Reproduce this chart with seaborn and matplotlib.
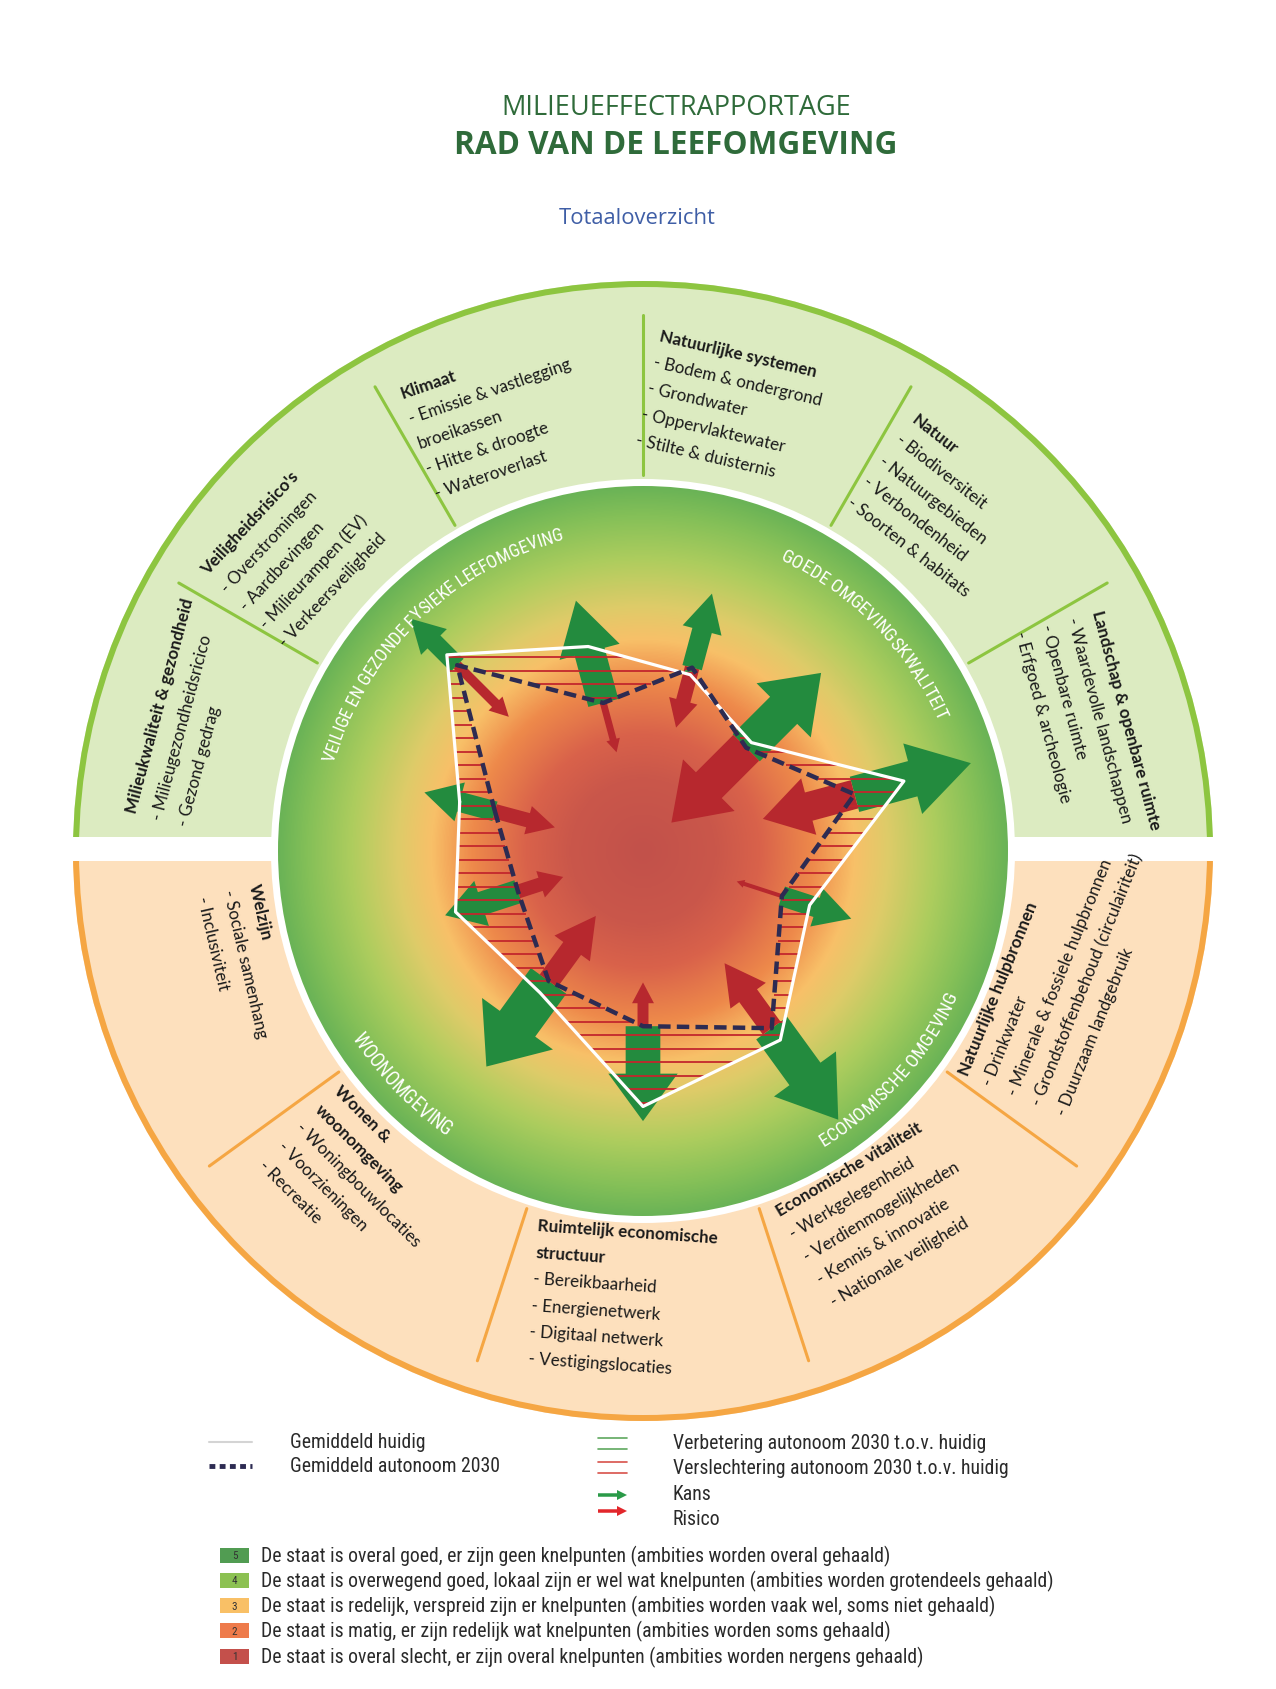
import numpy as np
import matplotlib
matplotlib.use("Agg")
import matplotlib.pyplot as plt
import seaborn as sns
from matplotlib import font_manager
from matplotlib.font_manager import FontProperties, findfont, get_font
from matplotlib.patches import Wedge, Circle, Rectangle, Arc
from matplotlib.colors import LinearSegmentedColormap

# Thema's van het rad, met de klok mee vanaf linksboven
thema_boven = ["Milieukwaliteit & gezondheid", "Veiligheidsrisico's", "Klimaat",
               "Natuurlijke systemen", "Natuur", "Landschap & openbare ruimte"]
thema_onder = ["Natuurlijke hulpbronnen", "Economische vitaliteit",
               "Ruimtelijk economische structuur", "Wonen & woonomgeving", "Welzijn"]
thema = thema_boven + thema_onder

# Scores (schaal 0-5, 5 = rand van het rad)
huidig = [2.6, 3.8, 2.9, 2.5, 2.1, 3.7, 2.4, 3.2, 3.5, 2.4, 2.7]
autonoom_2030 = [2.1, 3.6, 2.1, 2.6, 2.0, 3.0, 2.0, 3.0, 2.4, 2.2, 1.8]

# Kansen en risico's (lengte en breedte van de pijlen, zelfde schaal)
kans_lengte = [1.0, 0.9, 1.45, 1.05, 1.45, 1.65, 1.0, 1.55, 1.3, 1.45, 1.05]
kans_breedte = [0.55, 0.5, 0.85, 0.55, 1.05, 1.0, 0.55, 1.05, 0.95, 1.2, 0.65]
risico_lengte = [0.85, 1.0, 0.7, 0.85, 1.45, 1.3, 0.65, 1.1, 0.6, 1.1, 0.65]
risico_breedte = [0.4, 0.27, 0.19, 0.4, 1.0, 0.8, 0.11, 0.6, 0.3, 0.6, 0.38]

onderdelen = {
    "Milieukwaliteit & gezondheid": ["Milieugezondheidsricico", "Gezond gedrag"],
    "Veiligheidsrisico's": ["Overstromingen", "Aardbevingen", "Milieurampen (EV)",
                            "Verkeersveiligheid"],
    "Klimaat": ["Emissie & vastlegging\nbroeikassen", "Hitte & droogte", "Wateroverlast"],
    "Natuurlijke systemen": ["Bodem & ondergrond", "Grondwater", "Oppervlaktewater",
                             "Stilte & duisternis"],
    "Natuur": ["Biodiversiteit", "Natuurgebieden", "Verbondenheid", "Soorten & habitats"],
    "Landschap & openbare ruimte": ["Waardevolle landschappen", "Openbare ruimte",
                                    "Erfgoed & archeologie"],
    "Natuurlijke hulpbronnen": ["Drinkwater", "Minerale & fossiele hulpbronnen",
                                "Grondstoffenbehoud (circulairiteit)", "Duurzaam landgebruik"],
    "Economische vitaliteit": ["Werkgelegenheid", "Verdienmogelijkheden",
                               "Kennis & innovatie", "Nationale veiligheid"],
    "Ruimtelijk economische structuur": ["Bereikbaarheid", "Energienetwerk",
                                         "Digitaal netwerk", "Vestigingslocaties"],
    "Wonen & woonomgeving": ["Woningbouwlocaties", "Voorzieningen", "Recreatie"],
    "Welzijn": ["Sociale samenhang", "Inclusiviteit"],
}
titel_regels = {"Ruimtelijk economische structuur": ["Ruimtelijk economische", "structuur"],
                "Wonen & woonomgeving": ["Wonen &", "woonomgeving"]}

domeinen = ["VEILIGE EN GEZONDE FYSIEKE LEEFOMGEVING", "GOEDE OMGEVINGSKWALITEIT",
            "WOONOMGEVING", "ECONOMISCHE OMGEVING"]

legenda_klassen = ["5", "4", "3", "2", "1"]
legenda_teksten = [
    "De staat is overal goed, er zijn geen knelpunten (ambities worden overal gehaald)",
    "De staat is overwegend goed, lokaal zijn er wel wat knelpunten (ambities worden grotendeels gehaald)",
    "De staat is redelijk, verspreid zijn er knelpunten (ambities worden vaak wel, soms niet gehaald)",
    "De staat is matig, er zijn redelijk wat knelpunten (ambities worden soms gehaald)",
    "De staat is overal slecht, er zijn overal knelpunten (ambities worden nergens gehaald)",
]
legenda_kleuren = ["#519c52", "#8cc152", "#f9c066", "#ee7b4b", "#c4504b"]

# ---------------------------------------------------------------- layout
W, H, DPI = 1276, 1690, 100
CX, CY = 643, H - 852
R_OUT, R_IN, R_CIRC = 570, 372, 365
SCHAAL = R_CIRC / 5.0

sns.set_theme(style="white")
plt.rcParams["font.family"] = ["Open Sans", "DejaVu Sans"]

ttf = font_manager.fontManager.ttflist
namen = {f.name for f in ttf}
fp_smal = None
for n in ["Roboto Condensed", "Liberation Sans Narrow", "Open Sans Condensed",
          "Noto Sans Condensed"]:
    if n in namen:
        fp_smal = FontProperties(family=n)
        break
if fp_smal is None:
    for n in ["Noto Sans", "Roboto", "Open Sans", "DejaVu Sans", "Liberation Sans"]:
        hits = [f for f in ttf if f.name == n and f.stretch in ("condensed", "semi-condensed")
                and f.style == "normal" and f.weight in (400, "normal", "regular")]
        if hits:
            fp_smal = FontProperties(fname=hits[0].fname)
            break
if fp_smal is None:
    fp_smal = FontProperties(family="Roboto")

fp_reg = FontProperties(family="Open Sans")
fp_bold = FontProperties(family="Open Sans", weight="bold")
ring_fam = "Lato" if "Lato" in namen else "Open Sans"
fp_ring = FontProperties(family=ring_fam)
fp_ring_bold = FontProperties(family=ring_fam, weight="bold")


def advances(tekst, fp, size):
    font = get_font(findfont(fp))
    font.set_size(size, 72)
    return [font.load_char(ord(c)).linearHoriAdvance / 65536 * DPI / 72 for c in tekst]


def passend(tekst, fp, doel):
    return 10 * doel / sum(advances(tekst, fp, 10))


def met_maat(fp, size):
    f = fp.copy()
    f.set_size(size)
    return f


def pol(hoek, r):
    t = np.radians(hoek)
    return CX + r * np.cos(t), CY + r * np.sin(t)


fig = plt.figure(figsize=(W / DPI, H / DPI), dpi=DPI)
ax = fig.add_axes([0, 0, 1, 1])

# buitenring
ax.add_patch(Wedge((CX, CY), R_OUT, 0, 180, facecolor="#dcebc1", edgecolor="none", zorder=1))
ax.add_patch(Wedge((CX, CY), R_OUT, 180, 360, facecolor="#fde0bd", edgecolor="none", zorder=1))
ax.add_patch(Arc((CX, CY), 2 * (R_OUT - 3), 2 * (R_OUT - 3), theta1=0, theta2=180,
                 color="#8dc540", lw=4.3, zorder=1.2))
ax.add_patch(Arc((CX, CY), 2 * (R_OUT - 3), 2 * (R_OUT - 3), theta1=180, theta2=360,
                 color="#f5a643", lw=4.3, zorder=1.2))
for a in [30, 60, 90, 120, 150]:
    (x1, y1), (x2, y2) = pol(a, 376), pol(a, 536)
    ax.plot([x1, x2], [y1, y2], color="#8dc540", lw=2.2, zorder=1.5)
for a in [216, 252, 288, 324]:
    (x1, y1), (x2, y2) = pol(a, 376), pol(a, 536)
    ax.plot([x1, x2], [y1, y2], color="#f5a643", lw=2.2, zorder=1.5)
ax.add_patch(Rectangle((0, CY - 10), W, 24, facecolor="white", edgecolor="none", zorder=1.8))

# binnencirkel met kleurverloop
ax.add_patch(Circle((CX, CY), R_IN, facecolor="white", edgecolor="none", zorder=2))
stops = [(0.0, "#c2514b"), (0.2, "#ca574a"), (0.32, "#d9624a"), (0.47, "#ee8a4b"),
         (0.58, "#f8c068"), (0.67, "#dfcb69"), (0.8, "#aecd5e"), (0.92, "#85c058"),
         (1.0, "#6ab356")]
cmap = LinearSegmentedColormap.from_list("rad", stops)
g = np.linspace(-1, 1, 700)
gx, gy = np.meshgrid(g, g)
im = ax.imshow(np.hypot(gx, gy), cmap=cmap, vmin=0, vmax=1, origin="lower",
               extent=[CX - R_CIRC, CX + R_CIRC, CY - R_CIRC, CY + R_CIRC],
               interpolation="bilinear", zorder=3)
im.set_clip_path(Circle((CX, CY), R_CIRC, transform=ax.transData))

# assen van het radardiagram
hoeken = np.array([180 - 30 * (i + 0.5) for i in range(len(thema_boven))] +
                  [360 - 36 * (i + 0.5) for i in range(len(thema_onder))])


def radar_xy(waarden):
    r = np.array(waarden) * SCHAAL
    return CX + r * np.cos(np.radians(hoeken)), CY + r * np.sin(np.radians(hoeken))


hx, hy = radar_xy(huidig)
ax_, ay_ = radar_xy(autonoom_2030)

# pijlen: kansen naar buiten, risico's naar binnen
for i, hoek in enumerate(hoeken):
    ux, uy = np.cos(np.radians(hoek)), np.sin(np.radians(hoek))
    for lengte, breedte, kleur, richting, z in [
            (kans_lengte[i], kans_breedte[i], "#238b3e", 1, 4),
            (risico_lengte[i], risico_breedte[i], "#b7282e", -1, 5)]:
        L = lengte * SCHAAL
        hw = breedte * SCHAAL
        ax.arrow(ax_[i], ay_[i], richting * ux * L, richting * uy * L, width=0.5 * hw,
                 head_width=hw, head_length=min(0.5 * L, 0.95 * hw),
                 length_includes_head=True, facecolor=kleur, edgecolor="none", lw=0, zorder=z)


# arcering tussen huidig en autonoom 2030
def snijpunten(px, py, y0):
    xs = []
    n = len(px)
    for k in range(n):
        x1, y1, x2, y2 = px[k], py[k], px[(k + 1) % n], py[(k + 1) % n]
        if (y1 <= y0 < y2) or (y2 <= y0 < y1):
            xs.append(x1 + (y0 - y1) * (x2 - x1) / (y2 - y1))
    return sorted(xs)


def binnen(xs, x):
    return sum(1 for v in xs if v < x) % 2 == 1


rood, groen = [], []
for y0 in np.arange(CY - 400, CY + 400, 13.5):
    a = snijpunten(hx, hy, y0)
    b = snijpunten(ax_, ay_, y0)
    pts = sorted(a + b)
    for x1, x2 in zip(pts[:-1], pts[1:]):
        m = 0.5 * (x1 + x2)
        ia, ib = binnen(a, m), binnen(b, m)
        if ia and not ib:
            rood.append((y0, x1, x2))
        elif ib and not ia:
            groen.append((y0, x1, x2))
if rood:
    ax.hlines([r[0] for r in rood], [r[1] for r in rood], [r[2] for r in rood],
              color="#c3272d", lw=1.3, zorder=6)
if groen:
    ax.hlines([r[0] for r in groen], [r[1] for r in groen], [r[2] for r in groen],
              color="#3b9b46", lw=1.3, zorder=6)

sns.lineplot(x=np.append(hx, hx[0]), y=np.append(hy, hy[0]), sort=False, estimator=None,
             color="white", linewidth=2.3, ax=ax, zorder=7)
sns.lineplot(x=np.append(ax_, ax_[0]), y=np.append(ay_, ay_[0]), sort=False, estimator=None,
             color="#2d2b52", linewidth=3.2, linestyle=(0, (2.8, 1.4)),
             dash_capstyle="butt", ax=ax, zorder=8)


# gebogen domeinnamen langs de binnencirkel
def boogtekst(tekst, midden, straal, span, boven):
    size = passend(tekst, fp_smal, np.radians(span) * straal)
    adv = np.array(advances(tekst, fp_smal, size))
    pos = np.cumsum(np.r_[0, adv[:-1]]) + adv / 2 - adv.sum() / 2
    fp = met_maat(fp_smal, size)
    for ch, p in zip(tekst, pos):
        d = np.degrees(p / straal)
        th = midden - d if boven else midden + d
        x, y = pol(th, straal)
        ax.text(x, y, ch, fontproperties=fp, rotation=(th - 90) if boven else (th + 90),
                rotation_mode="anchor", ha="center", va="baseline", color="white", zorder=9)


boog = [(134, 322, 60, True), (44.5, 322, 41, True), (224, 346, 23, False),
        (318.5, 346, 34, False)]
for tekst, (midden, straal, span, boven) in zip(domeinen, boog):
    boogtekst(tekst, midden, straal, span, boven)

# teksten in de buitenring
blok_layout = {
    "Milieukwaliteit & gezondheid": (175.7, 508, 75),
    "Veiligheidsrisico's": (147.6, 515, 47),
    "Klimaat": (118, 513, 19),
    "Natuurlijke systemen": (88.2, 511, -13),
    "Natuur": (58.1, 507, -38),
    "Landschap & openbare ruimte": (28.1, 509, -75),
    "Natuurlijke hulpbronnen": (325.3, 395, 68),
    "Economische vitaliteit": (290.6, 390, 31),
    "Ruimtelijk economische structuur": (254.4, 394, -4),
    "Wonen & woonomgeving": (217.7, 392, -45),
    "Welzijn": (184.9, 396, -77),
}
ring_size = passend("- Bodem & ondergrond", fp_ring, 172)
LS = 26.5
for naam in thema:
    hoek, straal, rot = blok_layout[naam]
    regels = [(t, fp_ring_bold) for t in titel_regels.get(naam, [naam])]
    for item in onderdelen[naam]:
        delen = item.split("\n")
        regels.append(("- " + delen[0], fp_ring))
        regels += [(d, fp_ring) for d in delen[1:]]
    x0, y0 = pol(hoek, straal)
    dx, dy = np.sin(np.radians(rot)), -np.cos(np.radians(rot))
    for k, (t, fp) in enumerate(regels):
        ax.text(x0 + k * LS * dx, y0 + k * LS * dy, t, fontproperties=met_maat(fp, ring_size),
                rotation=rot, rotation_mode="anchor", ha="left", va="baseline",
                color="#1a1a1a", zorder=9)

# titels
groen_titel = "#2f6b3a"
ax.text(676, H - 108, "MILIEUEFFECTRAPPORTAGE", ha="center", va="center", color=groen_titel,
        fontproperties=met_maat(fp_reg, passend("MILIEUEFFECTRAPPORTAGE", fp_reg, 350)))
ax.text(676, H - 146, "RAD VAN DE LEEFOMGEVING", ha="center", va="center", color=groen_titel,
        fontproperties=met_maat(fp_bold, passend("RAD VAN DE LEEFOMGEVING", fp_bold, 445)))
ax.text(637, H - 219, "Totaaloverzicht", ha="center", va="center", color="#3f5ea6",
        fontproperties=met_maat(fp_reg, passend("Totaaloverzicht", fp_reg, 157)))

# legenda
leg_fp = met_maat(fp_smal, passend(legenda_teksten[0], fp_smal, 632))
tk = "#2a2a2a"
ax.plot([209, 252], [H - 1443] * 2, color="#d4d4d4", lw=1.5)
ax.plot([209, 252], [H - 1467] * 2, color="#2d2b52", lw=3.5, linestyle=(0, (1.2, 0.9)),
        dash_capstyle="butt")
ax.text(290, H - 1443, "Gemiddeld huidig", va="center", color=tk, fontproperties=leg_fp)
ax.text(290, H - 1467, "Gemiddeld autonoom 2030", va="center", color=tk, fontproperties=leg_fp)
for yy in (1439, 1450):
    ax.plot([598, 627], [H - yy] * 2, color="#5fa85f", lw=1.2)
for yy in (1463, 1474):
    ax.plot([598, 627], [H - yy] * 2, color="#d8524a", lw=1.2)
ax.arrow(598, H - 1496, 29, 0, width=3.5, head_width=10, head_length=10,
         length_includes_head=True, facecolor="#2a9a48", edgecolor="none")
ax.arrow(598, H - 1512, 29, 0, width=3.5, head_width=10, head_length=10,
         length_includes_head=True, facecolor="#e2262b", edgecolor="none")
ax.text(673, H - 1444, "Verbetering autonoom 2030 t.o.v. huidig", va="center", color=tk,
        fontproperties=leg_fp)
ax.text(673, H - 1469, "Verslechtering autonoom 2030 t.o.v. huidig", va="center", color=tk,
        fontproperties=leg_fp)
ax.text(673, H - 1495, "Kans", va="center", color=tk, fontproperties=leg_fp)
ax.text(673, H - 1520, "Risico", va="center", color=tk, fontproperties=leg_fp)
for k, (klasse, tekst, kleur) in enumerate(zip(legenda_klassen, legenda_teksten,
                                                legenda_kleuren)):
    yy = H - (1556 + 25.3 * k)
    ax.add_patch(Rectangle((220, yy - 7.5), 29, 15, facecolor=kleur, edgecolor="none"))
    ax.text(234.5, yy, klasse, ha="center", va="center", color="#333333",
            fontproperties=met_maat(fp_smal, 8))
    ax.text(261, yy, tekst, va="center", color=tk, fontproperties=leg_fp)

ax.set_xlim(0, W)
ax.set_ylim(0, H)
ax.set_aspect("auto")
ax.axis("off")
fig.savefig("out.png", dpi=DPI, facecolor="white")
